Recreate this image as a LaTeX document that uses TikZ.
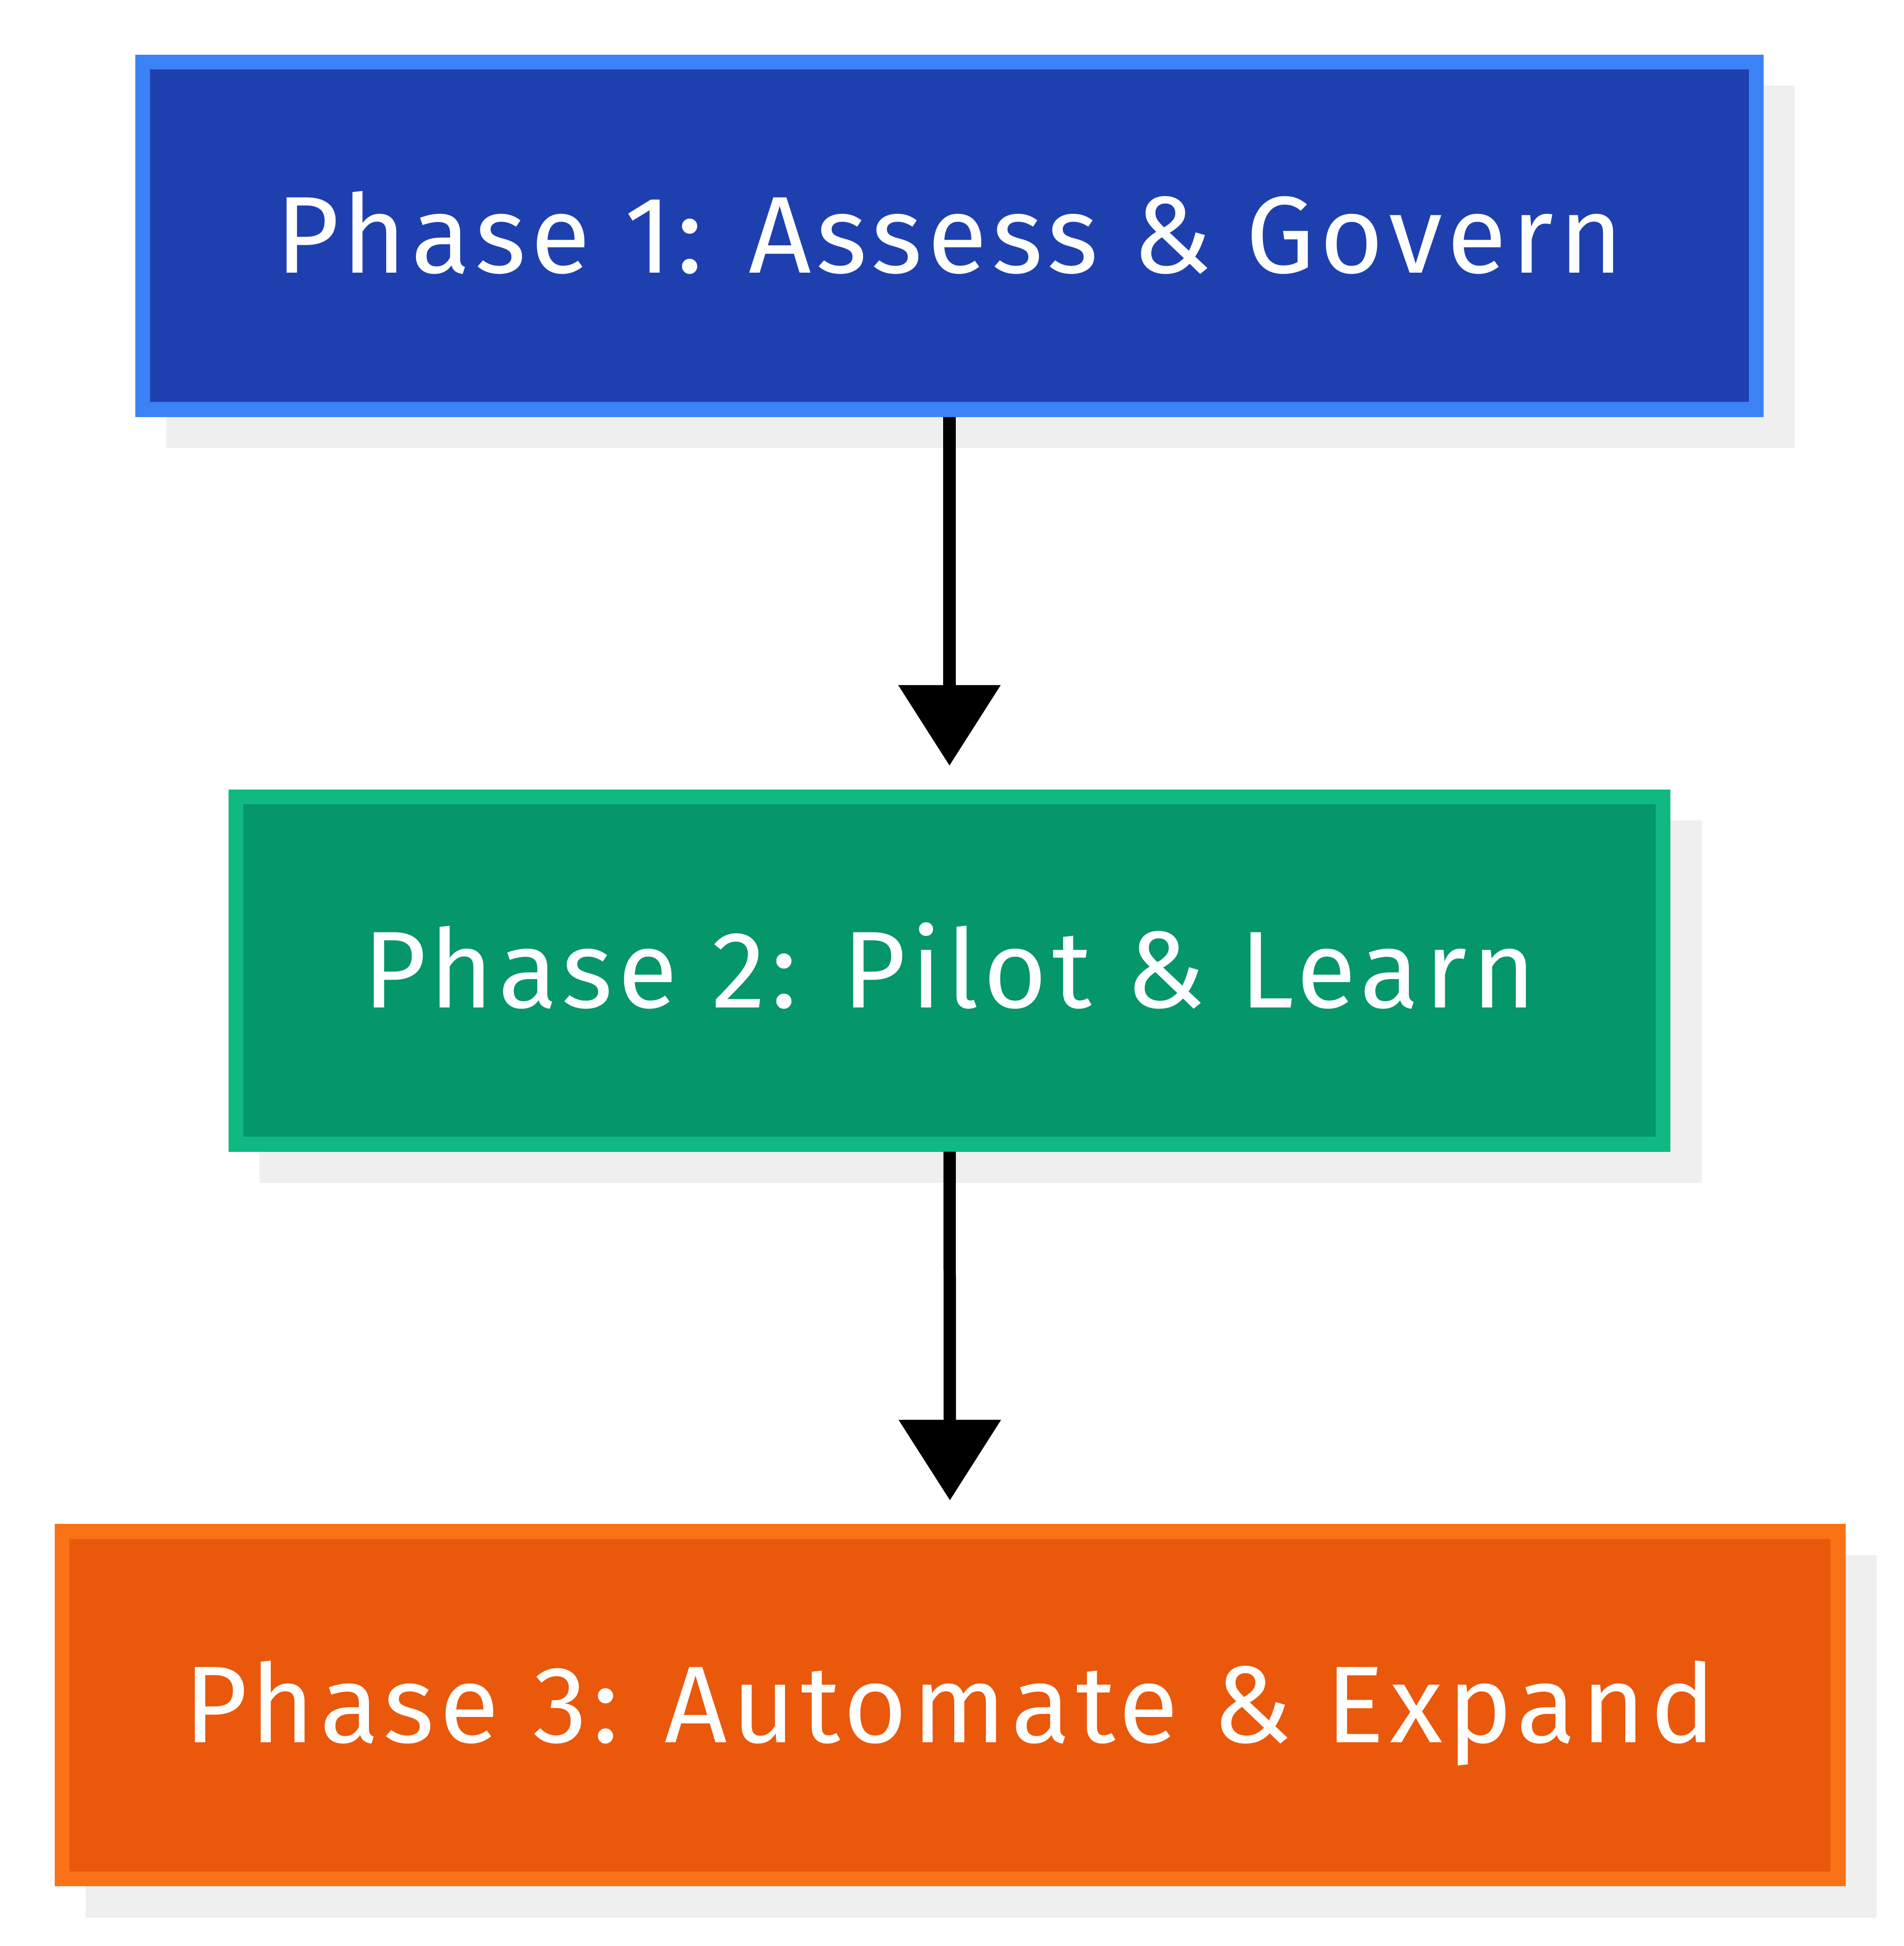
\documentclass[tikz,border=0pt]{standalone}
\usepackage{fontspec}
\setmainfont{Fira Sans}[LetterSpace=4.7]
\usetikzlibrary{arrows.meta,shadows}
\definecolor{blueFill}{HTML}{1E40AF}
\definecolor{blueEdge}{HTML}{3B82F6}
\definecolor{greenFill}{HTML}{059669}
\definecolor{greenEdge}{HTML}{10B981}
\definecolor{orangeFill}{HTML}{EA580C}
\definecolor{orangeEdge}{HTML}{F97316}
\definecolor{shadowGray}{HTML}{EFEFEF}
\begin{document}
\begin{tikzpicture}[x=0.5pt,y=-0.5pt,
    phase/.style={rectangle, line width=6pt, minimum height=140pt, text=white,
      font=\fontsize{44}{50}\selectfont, text height=32pt, text depth=2pt,
      drop shadow={shadow xshift=12.5pt, shadow yshift=-12.5pt, fill=shadowGray, draw=shadowGray, opacity=1}},
    flow/.style={line width=5pt, -{Triangle[width=40pt,length=32.5pt]}, shorten >=9.5pt}]
      \useasboundingbox (0,0) rectangle (1534,1568);

      \node[phase, draw=blueEdge, fill=blueFill, minimum width=650pt] (p1) at (765,190) {Phase 1: Assess \& Govern};
      \node[phase, draw=greenEdge, fill=greenFill, minimum width=575pt] (p2) at (765,782) {Phase 2: Pilot \& Learn};
      \node[phase, draw=orangeEdge, fill=orangeFill, minimum width=715.5pt] (p3) at (765.5,1374) {Phase 3: Automate \& Expand};

      \draw[flow] (p1) -- (p2);
      \draw[flow] (p2) -- (p3);
    \end{tikzpicture}
\end{document}
